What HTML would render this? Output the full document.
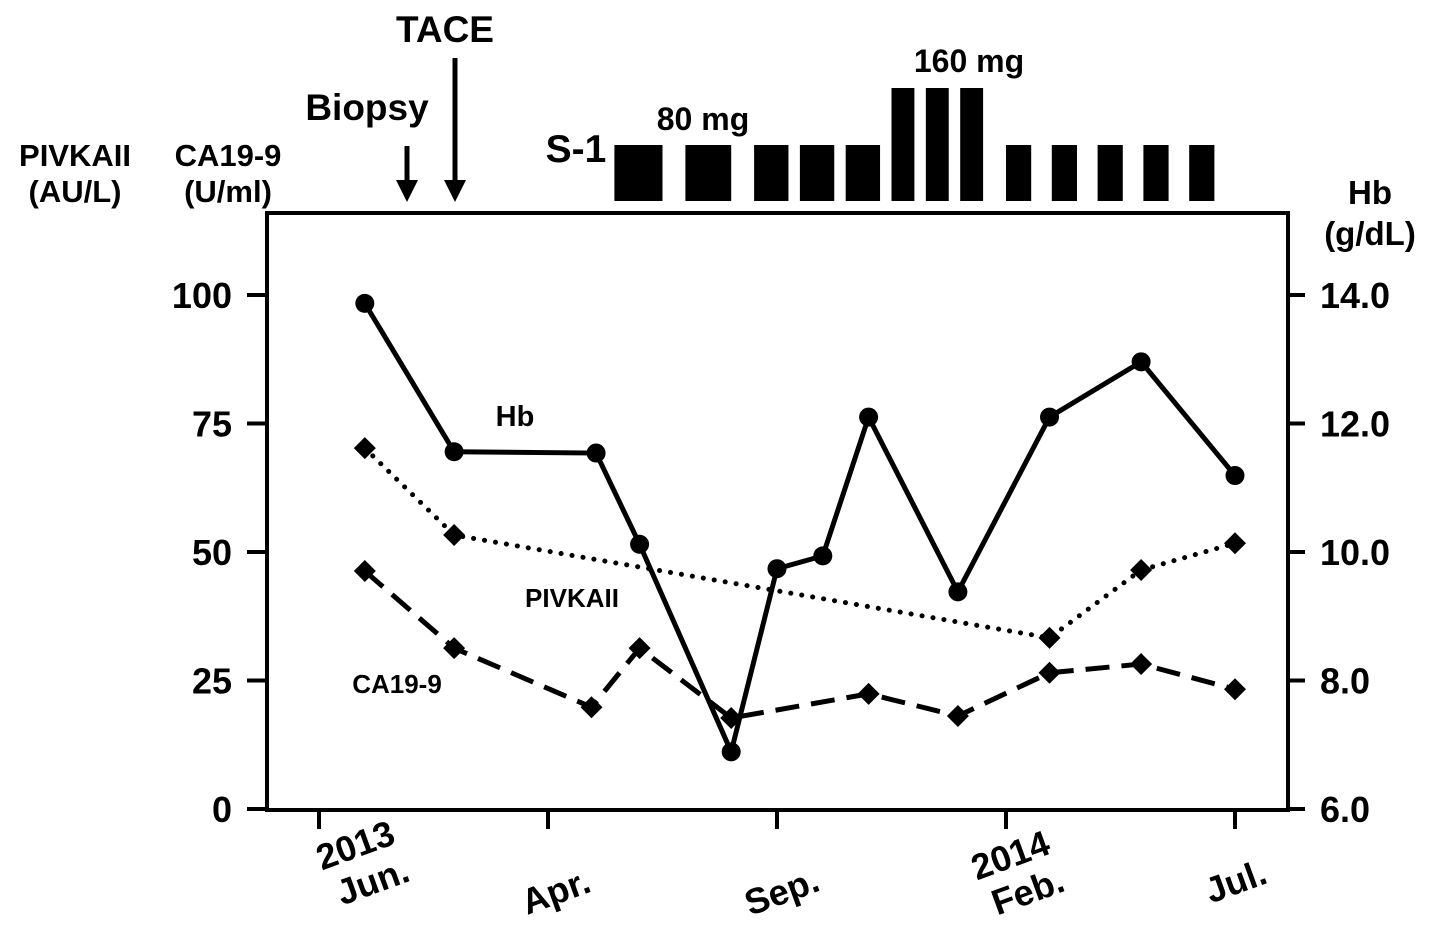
<!DOCTYPE html>
<html><head><meta charset="utf-8"><style>
html,body{margin:0;padding:0;background:#fff}
svg{display:block;font-family:"Liberation Sans",Arial,sans-serif;font-weight:bold}
</style></head><body>
<svg id="c" width="1441" height="932" viewBox="0 0 1441 932">
<rect x="267" y="213" width="1021" height="597" fill="none" stroke="#000" stroke-width="4"/>
<g id="axes"></g><g id="series"></g>
<g font-size="31" text-anchor="middle">
<text x="75" y="166">PIVKAII</text>
<text x="75" y="202">(AU/L)</text>
<text x="228" y="166">CA19-9</text>
<text x="228" y="202">(U/ml)</text>
<text x="1370" y="204" font-size="33">Hb</text>
<text x="1370" y="245" font-size="33">(g/dL)</text>
</g>
<text x="367" y="120" font-size="37" text-anchor="middle">Biopsy</text>
<text x="445" y="42" font-size="37" text-anchor="middle">TACE</text>
<text x="576" y="162" font-size="39" text-anchor="middle">S-1</text>
<text x="703" y="130" font-size="32" text-anchor="middle">80 mg</text>
<text x="969" y="72" font-size="32" text-anchor="middle">160 mg</text>
<g><line x1="407" y1="146" x2="407" y2="182" stroke="#000" stroke-width="5"/><polygon points="396,180 418,180 407,202" fill="#000"/></g>
<g><line x1="455" y1="58" x2="455" y2="182" stroke="#000" stroke-width="5"/><polygon points="444,180 466,180 455,202" fill="#000"/></g>
<g id="dose"></g>
<text x="515" y="426" font-size="29" text-anchor="middle">Hb</text>
<text x="572" y="607" font-size="26" text-anchor="middle">PIVKAII</text>
<text x="397" y="693" font-size="26" text-anchor="middle">CA19-9</text>
</svg>
<script>
const leftTicks=[0,25,50,75,100];
const rightTicks=["6.0","8.0","10.0","12.0","14.0"];
const xTickLabels=[["2013","Jun."],["","Apr."],["","Sep."],["2014","Feb."],["","Jul."]];
const hbX=[0.2,0.59,1.21,1.4,1.8,2.0,2.2,2.4,2.79,3.19,3.59,4.0];
const hbVals=[13.87,11.56,11.54,10.12,6.89,9.74,9.94,12.1,9.38,12.1,12.96,11.19];
const pivX=[0.2,0.59,3.19,3.59,4.0];
const pivVals=[70.2,53.3,33.3,46.5,51.7];
const caX=[0.2,0.59,1.19,1.4,1.8,2.4,2.79,3.19,3.59,4.0];
const caVals=[46.3,31.3,19.8,31.3,17.7,22.4,18.1,26.5,28.2,23.3];
const doseStart=[1.29,1.6,1.9,2.1,2.3,2.5,2.65,2.8,3.0,3.2,3.4,3.6,3.8];
const doseEnd=[1.5,1.8,2.05,2.25,2.45,2.6,2.75,2.9,3.11,3.31,3.51,3.71,3.91];
const doseMg=[80,80,80,80,80,160,160,160,80,80,80,80,80];
const NS="http://www.w3.org/2000/svg";
const X=v=>319+v*229;
const YL=v=>809-v*5.14;
const YR=v=>809-(v-6)*64.25;
const DY=mg=>mg>=160?88:145;
const LBL_DX=[58,12,9,26,5];
const LBL_Y=[893,903,903,903,893];
function mk(p,t,a){const e=document.createElementNS(NS,t);for(const k in a)e.setAttribute(k,a[k]);document.getElementById(p).appendChild(e);return e;}
leftTicks.forEach((v,i)=>{
 const l=mk('axes','line',{x1:247,x2:267,y1:YL(v),y2:YL(v),stroke:'#000','stroke-width':4});
 
 
 const t=mk('axes','text',{x:232,y:YL(v)+13,'font-size':36,'text-anchor':'end'});t.textContent=v;
 
 
});
rightTicks.forEach((v,i)=>{
 const y=YR(parseFloat(v));
 const l=mk('axes','line',{x1:1288,x2:1305,y1:y,y2:y,stroke:'#000','stroke-width':4});
 
 
 const t=mk('axes','text',{x:1320,y:y+13,'font-size':36});t.textContent=v;
 
 
});
xTickLabels.forEach((lb,i)=>{
 const x=X(i);
 const l=mk('axes','line',{x1:x,x2:x,y1:810,y2:829,stroke:'#000','stroke-width':4});
 
 
 const t=mk('axes','text',{transform:`translate(${x+LBL_DX[i]},${LBL_Y[i]}) rotate(-20)`,'font-size':36,'text-anchor':'middle'});
 
 
 if(lb[0]){const s1=document.createElementNS(NS,'tspan');s1.setAttribute('x',-4);s1.setAttribute('y',-40);s1.textContent=lb[0];t.appendChild(s1);}
 const s2=document.createElementNS(NS,'tspan');s2.setAttribute('x',0);s2.setAttribute('y',0);s2.textContent=lb[1];t.appendChild(s2);
});
doseStart.forEach((s,i)=>{
 const r=mk('dose','rect',{x:X(s),y:DY(doseMg[i]),width:X(doseEnd[i])-X(s),height:201-DY(doseMg[i]),fill:'#000'});
 
 
});
function line(xs,vs,Y,dash,name){
 const p=mk('series','polyline',{points:xs.map((x,i)=>X(x)+','+Y(vs[i])).join(' '),fill:'none',stroke:'#000','stroke-width':5,'stroke-dasharray':dash==='dot'?'0.1 11':dash==='dash'?'24 12':'none','stroke-linecap':dash==='dot'?'round':'butt'});
 
 
}
line(hbX,hbVals,YR,'none','hb');
line(pivX,pivVals,YL,'dot','pivka');
line(caX,caVals,YL,'dash','ca199');
hbX.forEach((x,i)=>{const c=mk('series','circle',{cx:X(x),cy:YR(hbVals[i]),r:9.5,fill:'#000'});
 
 });
function dia(xs,vs,name){xs.forEach((x,i)=>{const cx=X(x),cy=YL(vs[i]);
 const d=mk('series','polygon',{points:`${cx},${cy-11} ${cx+11},${cy} ${cx},${cy+11} ${cx-11},${cy}`,fill:'#000'});
 
 });}
dia(pivX,pivVals,'pivka');
dia(caX,caVals,'ca199');
</script>
</body></html>
